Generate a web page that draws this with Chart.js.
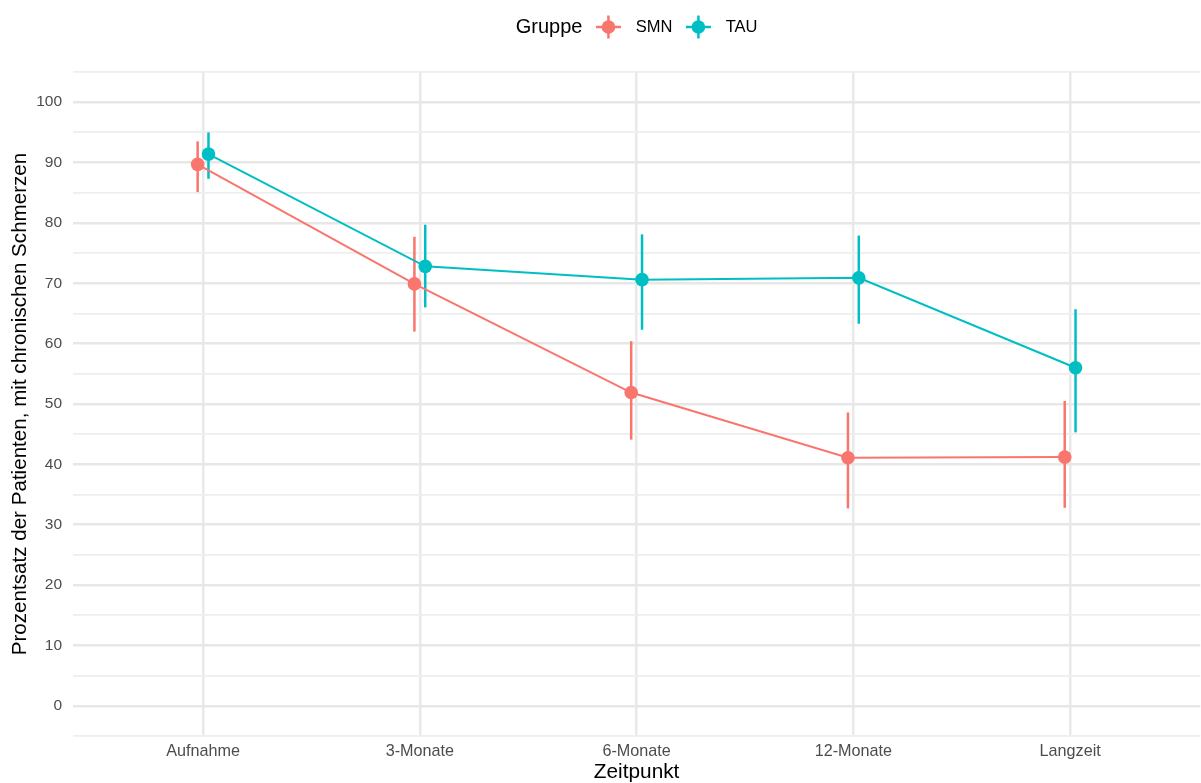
<!DOCTYPE html>
<html>
<head>
<meta charset="utf-8">
<script src="https://cdn.jsdelivr.net/npm/chart.js@4/dist/chart.umd.min.js"></script>
<style>
  html, body { margin: 0; padding: 0; background: #ffffff; overflow: hidden; }
  #wrap { width: 1201px; height: 783px; position: relative; overflow: hidden; }
  #c { position: absolute; left: 0; top: 0; }
</style>
</head>
<body>
<div id="wrap"><canvas id="c" width="1207" height="783"></canvas></div>
<script>
// ---- data ----
const categories = ['Aufnahme', '3-Monate', '6-Monate', '12-Monate', 'Langzeit'];
const groups = ['SMN', 'TAU'];
const smnMean  = [89.7, 69.9, 51.9, 41.1, 41.2];
const smnLower = [85.1, 62.0, 44.1, 32.7, 32.8];
const smnUpper = [93.5, 77.7, 60.4, 48.6, 50.5];
const tauMean  = [91.4, 72.8, 70.6, 70.9, 56.0];
const tauLower = [87.3, 66.0, 62.3, 63.3, 45.3];
const tauUpper = [95.0, 79.7, 78.1, 77.9, 65.7];
const yTickLabels = [0, 10, 20, 30, 40, 50, 60, 70, 80, 90, 100];

// ---- styling ----
const COLORS = { SMN: '#F8766D', TAU: '#00BFC4' };
const FONT = '"Liberation Sans", Arial, Helvetica, sans-serif';
const DODGE = 0.025;

function makeSeries(name, mean, lower, upper, offset) {
  return {
    label: name,
    data: mean.map((v, i) => ({ x: i + offset, y: v })),
    lower: lower,
    upper: upper,
    borderColor: COLORS[name],
    backgroundColor: COLORS[name],
    pointBackgroundColor: COLORS[name],
    pointBorderColor: COLORS[name],
    borderWidth: 2,
    pointRadius: 6.8,
    pointBorderWidth: 0,
    pointHoverRadius: 6.8,
    showLine: true,
    tension: 0,
    fill: false
  };
}

const errorBars = {
  id: 'errorBars',
  beforeDatasetsDraw(chart) {
    const { ctx, scales: { x, y } } = chart;
    ctx.save();
    chart.data.datasets.forEach(ds => {
      ctx.strokeStyle = ds.borderColor;
      ctx.lineWidth = 2.5;
      ctx.lineCap = 'butt';
      ds.data.forEach((p, i) => {
        const px = x.getPixelForValue(p.x);
        ctx.beginPath();
        ctx.moveTo(px, y.getPixelForValue(ds.lower[i]));
        ctx.lineTo(px, y.getPixelForValue(ds.upper[i]));
        ctx.stroke();
      });
    });
    ctx.restore();
  }
};

const ggLegend = {
  id: 'ggLegend',
  afterDraw(chart) {
    const { ctx, chartArea } = chart;
    ctx.save();
    const titleFont = '20px ' + FONT;
    const labelFont = '16.5px ' + FONT;
    ctx.font = titleFont;
    const titleW = ctx.measureText('Gruppe').width;
    ctx.font = labelFont;
    const labelWs = groups.map(g => ctx.measureText(g).width);
    const gapToKey = 26, keyToLabel = 27.3;
    let total = titleW;
    groups.forEach((g, i) => { total += gapToKey + keyToLabel + labelWs[i]; });
    const cx = (chartArea.left + chartArea.right) / 2;
    let xPos = cx - total / 2;
    const yc = 27;
    ctx.textBaseline = 'middle';
    ctx.textAlign = 'left';
    ctx.fillStyle = '#000000';
    ctx.font = titleFont;
    ctx.fillText('Gruppe', xPos, yc);
    xPos += titleW;
    groups.forEach((g, i) => {
      const kx = xPos + gapToKey;
      const col = COLORS[g];
      ctx.strokeStyle = col;
      ctx.fillStyle = col;
      ctx.lineWidth = 2.5;
      ctx.beginPath();
      ctx.moveTo(kx - 12.5, yc); ctx.lineTo(kx + 12.5, yc);
      ctx.moveTo(kx, yc - 11.5); ctx.lineTo(kx, yc + 11.5);
      ctx.stroke();
      ctx.beginPath();
      ctx.arc(kx, yc, 6.8, 0, Math.PI * 2);
      ctx.fill();
      ctx.fillStyle = '#000000';
      ctx.font = labelFont;
      ctx.fillText(g, kx + keyToLabel, yc + 0.5);
      xPos = kx + keyToLabel + labelWs[i];
    });
    ctx.restore();
  }
};

const chart = new Chart(document.getElementById('c'), {
  type: 'scatter',
  data: {
    datasets: [
      makeSeries('SMN', smnMean, smnLower, smnUpper, -DODGE),
      makeSeries('TAU', tauMean, tauLower, tauUpper, DODGE)
    ]
  },
  options: {
    responsive: false,
    animation: false,
    layout: { padding: { top: 72, left: 0, right: 0, bottom: 0 } },
    plugins: {
      legend: { display: false },
      tooltip: { enabled: false }
    },
    scales: {
      x: {
        type: 'linear',
        min: -0.6,
        max: categories.length - 0.4,
        afterBuildTicks(scale) { scale.ticks = categories.map((c, i) => ({ value: i })); },
        afterFit(scale) { scale.height = 47; scale.paddingLeft = 0; scale.paddingRight = 0; },
        border: { display: false },
        grid: { color: '#e9e9e9', lineWidth: 2.5, drawTicks: false },
        ticks: {
          autoSkip: false,
          maxRotation: 0,
          padding: 6,
          color: '#4d4d4d',
          font: { family: FONT, size: 16.2 },
          callback: v => categories[Math.round(v)]
        },
        title: {
          display: true,
          text: 'Zeitpunkt',
          color: '#000000',
          font: { family: FONT, size: 20.8, lineHeight: 1 },
          padding: { top: 0, bottom: 0 }
        }
      },
      y: {
        type: 'linear',
        min: -5,
        max: 105,
        afterBuildTicks(scale) {
          const t = [];
          for (let v = -5; v <= 105; v += 5) t.push({ value: v });
          scale.ticks = t;
        },
        afterFit(scale) { scale.width = 73; scale.paddingTop = 0; scale.paddingBottom = 0; },
        border: { display: false },
        grid: {
          drawTicks: false,
          color: ctx => (ctx.tick && yTickLabels.includes(ctx.tick.value)) ? '#e7e7e7' : '#eeeeee',
          lineWidth: ctx => (ctx.tick && yTickLabels.includes(ctx.tick.value)) ? 2.5 : 1.8
        },
        ticks: {
          autoSkip: false,
          padding: 11,
          color: '#4d4d4d',
          font: { family: FONT, size: 15.5 },
          callback: v => yTickLabels.includes(v) ? String(v) : ''
        },
        title: {
          display: true,
          text: 'Prozentsatz der Patienten, mit chronischen Schmerzen',
          color: '#000000',
          font: { family: FONT, size: 20.6, lineHeight: 1 },
          padding: { top: 10, bottom: 0 }
        }
      }
    }
  },
  plugins: [errorBars, ggLegend]
});
</script>
</body>
</html>
